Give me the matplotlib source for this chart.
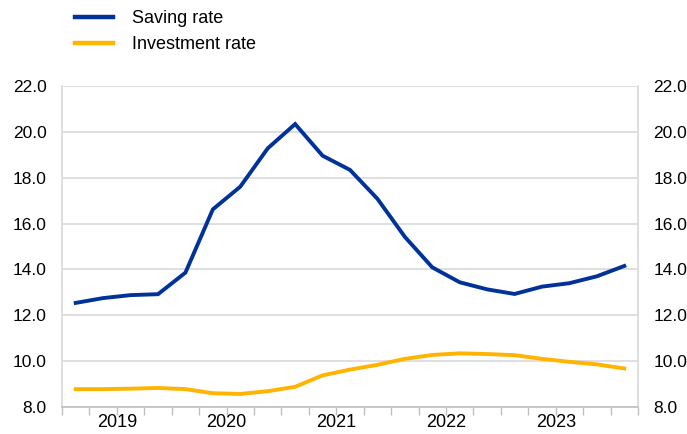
import matplotlib
matplotlib.use("Agg")
import matplotlib.pyplot as plt
from matplotlib.lines import Line2D
from matplotlib.ticker import FixedLocator, FormatStrFormatter, NullFormatter
from matplotlib.transforms import blended_transform_factory

plt.rcParams['font.family'] = ['Liberation Sans', 'DejaVu Sans']

quarters = ["2019Q1", "2019Q2", "2019Q3", "2019Q4",
            "2020Q1", "2020Q2", "2020Q3", "2020Q4",
            "2021Q1", "2021Q2", "2021Q3", "2021Q4",
            "2022Q1", "2022Q2", "2022Q3", "2022Q4",
            "2023Q1", "2023Q2", "2023Q3", "2023Q4",
            "2024Q1"]
saving_rate = [12.54, 12.75, 12.88, 12.92, 13.86, 16.62, 17.61, 19.28, 20.34, 18.96,
               18.34, 17.08, 15.42, 14.09, 13.44, 13.13, 12.93, 13.25, 13.40, 13.70, 14.15]
investment_rate = [8.78, 8.78, 8.80, 8.83, 8.78, 8.60, 8.57, 8.69, 8.88, 9.38,
                   9.63, 9.84, 10.10, 10.27, 10.34, 10.31, 10.26, 10.10, 9.97, 9.86, 9.68]
year_labels = ["2019", "2020", "2021", "2022", "2023"]
yticks = [8, 10, 12, 14, 16, 18, 20, 22]

BLUE = "#003299"
YELLOW = "#FFB400"
GRID = "#d9d9d9"

fig = plt.figure(figsize=(6.87, 4.34), dpi=100)
ax = fig.add_axes([62/687, 1-407/434, 576/687, 321/434])

x = list(range(len(quarters)))
ax.plot(x, saving_rate, color=BLUE, lw=2.8, solid_joinstyle='miter', zorder=3)
ax.plot(x, investment_rate, color=YELLOW, lw=2.8, solid_joinstyle='miter', zorder=3)

ax.set_xlim(-0.5, len(quarters) - 0.5)
ax.set_ylim(8, 22)
ax.set_yticks(yticks)
ax.yaxis.set_major_formatter(FormatStrFormatter('%.1f'))
ax.grid(axis='y', color=GRID, lw=1.2, zorder=0)
ax.set_axisbelow(True)

# x ticks: boundaries between quarters, year labels centred on groups of four
bounds = [i - 0.5 for i in range(len(quarters) + 1)]
ax.xaxis.set_major_locator(FixedLocator(bounds))
ax.xaxis.set_major_formatter(NullFormatter())
ax.tick_params(axis='x', which='major', length=6, width=1, color="#bfbfbf", direction='out')
ax.tick_params(axis='y', length=0, labelsize=12.5, pad=11, labelright=True, labelleft=True)

trans = blended_transform_factory(ax.transData, ax.transAxes)
for k, lab in enumerate(year_labels):
    ax.text(1.5 + 4 * k, -0.049, lab, transform=trans, ha='center', va='center',
            fontsize=13, color='black')

ax.spines['top'].set_visible(False)
for s in ['left', 'right']:
    ax.spines[s].set_color(GRID)
    ax.spines[s].set_linewidth(1.2)
ax.spines['bottom'].set_color("#bfbfbf")
ax.spines['bottom'].set_linewidth(1.2)

handles = [Line2D([], [], color=BLUE, lw=3.2), Line2D([], [], color=YELLOW, lw=3.2)]
fig.legend(handles, ["Saving rate", "Investment rate"], loc='upper left',
           bbox_to_anchor=(66/687, 1.0 - 1/434), frameon=False, fontsize=13,
           handlelength=2.1, handletextpad=1.05, labelspacing=0.52, borderaxespad=0.1)

fig.savefig("out.png", dpi=100)
